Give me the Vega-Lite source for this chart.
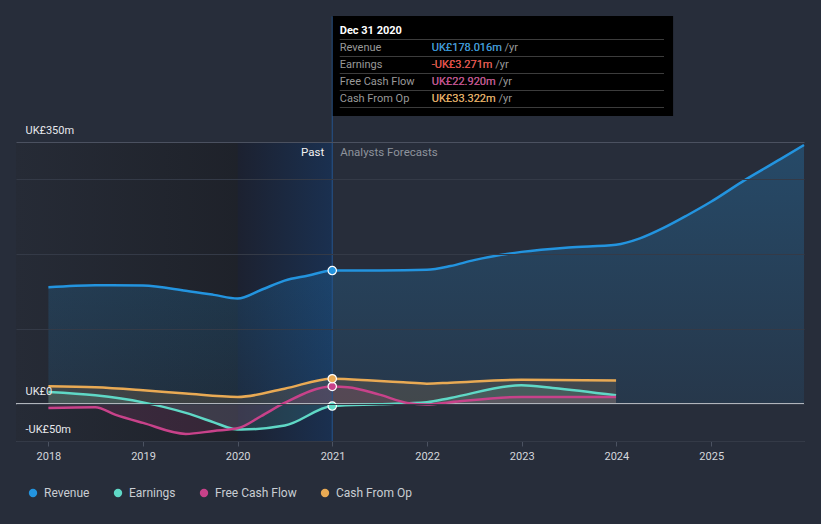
{
  "$schema": "https://vega.github.io/schema/vega-lite/v6.json",
  "width": 788,
  "height": 299,
  "autosize": {"type": "none"},
  "padding": {"left": 16, "top": 142, "right": 17, "bottom": 83},
  "background": "#272d3a",
  "config": {"view": {"stroke": null}, "font": "Roboto"},
  "datasets": {
    "fin": [
      {"series": "Revenue", "date": "2018-01-01", "value": 155.8},
      {"series": "Revenue", "date": "2018-07-01", "value": 158.5},
      {"series": "Revenue", "date": "2019-01-01", "value": 158.0},
      {"series": "Revenue", "date": "2019-06-15", "value": 151.0},
      {"series": "Revenue", "date": "2019-10-01", "value": 145.5},
      {"series": "Revenue", "date": "2020-01-01", "value": 140.6},
      {"series": "Revenue", "date": "2020-03-31", "value": 152.0},
      {"series": "Revenue", "date": "2020-06-30", "value": 164.6},
      {"series": "Revenue", "date": "2020-09-30", "value": 171.3},
      {"series": "Revenue", "date": "2020-12-31", "value": 178.016},
      {"series": "Revenue", "date": "2021-06-30", "value": 178.1},
      {"series": "Revenue", "date": "2021-12-31", "value": 179.0},
      {"series": "Revenue", "date": "2022-04-01", "value": 184.0},
      {"series": "Revenue", "date": "2022-07-01", "value": 192.0},
      {"series": "Revenue", "date": "2022-12-31", "value": 203.0},
      {"series": "Revenue", "date": "2023-07-01", "value": 209.0},
      {"series": "Revenue", "date": "2023-12-31", "value": 212.5},
      {"series": "Revenue", "date": "2024-04-01", "value": 221.0},
      {"series": "Revenue", "date": "2024-07-01", "value": 235.0},
      {"series": "Revenue", "date": "2024-10-01", "value": 252.0},
      {"series": "Revenue", "date": "2024-12-31", "value": 270.0},
      {"series": "Revenue", "date": "2025-05-15", "value": 300.0},
      {"series": "Revenue", "date": "2025-09-25", "value": 327.0},
      {"series": "Revenue", "date": "2025-12-25", "value": 346.0},
      {"series": "Earnings", "date": "2018-01-01", "value": 15.6},
      {"series": "Earnings", "date": "2018-07-01", "value": 11.1},
      {"series": "Earnings", "date": "2019-01-01", "value": 1.7},
      {"series": "Earnings", "date": "2019-06-15", "value": -12.4},
      {"series": "Earnings", "date": "2019-10-01", "value": -25.0},
      {"series": "Earnings", "date": "2019-12-15", "value": -33.8},
      {"series": "Earnings", "date": "2020-01-15", "value": -34.7},
      {"series": "Earnings", "date": "2020-07-01", "value": -29.4},
      {"series": "Earnings", "date": "2020-12-31", "value": -3.271},
      {"series": "Earnings", "date": "2021-06-30", "value": -0.8},
      {"series": "Earnings", "date": "2021-12-31", "value": 1.8},
      {"series": "Earnings", "date": "2022-04-01", "value": 7.6},
      {"series": "Earnings", "date": "2022-12-31", "value": 24.5},
      {"series": "Earnings", "date": "2023-05-01", "value": 21.0},
      {"series": "Earnings", "date": "2023-12-31", "value": 11.1},
      {"series": "Free Cash Flow", "date": "2018-01-01", "value": -5.8},
      {"series": "Free Cash Flow", "date": "2018-07-01", "value": -4.9},
      {"series": "Free Cash Flow", "date": "2018-09-15", "value": -14.7},
      {"series": "Free Cash Flow", "date": "2019-01-01", "value": -25.8},
      {"series": "Free Cash Flow", "date": "2019-06-15", "value": -40.5},
      {"series": "Free Cash Flow", "date": "2019-10-01", "value": -36.5},
      {"series": "Free Cash Flow", "date": "2020-01-01", "value": -33.0},
      {"series": "Free Cash Flow", "date": "2020-03-31", "value": -16.9},
      {"series": "Free Cash Flow", "date": "2020-06-30", "value": 0.9},
      {"series": "Free Cash Flow", "date": "2020-12-31", "value": 22.92},
      {"series": "Free Cash Flow", "date": "2021-03-01", "value": 22.0},
      {"series": "Free Cash Flow", "date": "2021-07-01", "value": 12.0},
      {"series": "Free Cash Flow", "date": "2021-10-15", "value": 1.0},
      {"series": "Free Cash Flow", "date": "2021-12-31", "value": -1.3},
      {"series": "Free Cash Flow", "date": "2022-04-01", "value": 1.8},
      {"series": "Free Cash Flow", "date": "2022-12-31", "value": 9.0},
      {"series": "Free Cash Flow", "date": "2023-12-31", "value": 9.0},
      {"series": "Cash From Op", "date": "2018-01-01", "value": 23.1},
      {"series": "Cash From Op", "date": "2018-07-01", "value": 21.8},
      {"series": "Cash From Op", "date": "2019-01-01", "value": 17.8},
      {"series": "Cash From Op", "date": "2019-06-15", "value": 13.4},
      {"series": "Cash From Op", "date": "2020-01-01", "value": 8.9},
      {"series": "Cash From Op", "date": "2020-06-30", "value": 20.0},
      {"series": "Cash From Op", "date": "2020-12-31", "value": 33.322},
      {"series": "Cash From Op", "date": "2021-06-01", "value": 31.0},
      {"series": "Cash From Op", "date": "2021-10-01", "value": 28.5},
      {"series": "Cash From Op", "date": "2021-12-31", "value": 26.7},
      {"series": "Cash From Op", "date": "2022-04-01", "value": 28.0},
      {"series": "Cash From Op", "date": "2022-12-31", "value": 32.0},
      {"series": "Cash From Op", "date": "2023-12-31", "value": 31.1}
    ],
    "tip": [
      {"row": 1, "label": "Revenue", "value": "UK£178.016m"},
      {"row": 2, "label": "Earnings", "value": "-UK£3.271m"},
      {"row": 3, "label": "Free Cash Flow", "value": "UK£22.920m"},
      {"row": 4, "label": "Cash From Op", "value": "UK£33.322m"}
    ]
  },
  "layer": [
    {
      "layer": [
        {
          "data": {"values": [{"a": 1}]},
          "mark": {
            "type": "rect",
            "color": {
              "gradient": "linear", "x1": 0, "y1": 0, "x2": 1, "y2": 0,
              "stops": [{"offset": 0, "color": "#262b36"}, {"offset": 1, "color": "#1b1e25"}]
            }
          },
          "encoding": {
            "x": {
              "datum": {"year": 2017, "month": 8, "date": 29, "utc": true},
              "type": "temporal",
              "scale": {"type": "utc", "domain": ["2017-08-29", "2025-12-25"]},
              "axis": {
                "title": null,
                "format": "%Y",
                "tickCount": {"interval": "year", "step": 1},
                "grid": false,
                "domainColor": "#4b5261",
                "tickColor": "#4b5261",
                "tickSize": 5,
                "labelPadding": 4,
                "labelColor": "#d4d7dc",
                "labelFontSize": 11,
                "labelFont": "Roboto"
              }
            },
            "x2": {"datum": {"year": 2020, "month": 12, "date": 31, "utc": true}}
          }
        },
        {
          "data": {"values": [{"a": 1}]},
          "mark": {
            "type": "rect",
            "color": {
              "gradient": "linear", "x1": 0, "y1": 0, "x2": 1, "y2": 0,
              "stops": [{"offset": 0, "color": "#1c2130"}, {"offset": 1, "color": "#1a3050"}]
            }
          },
          "encoding": {
            "x": {"datum": {"year": 2020, "month": 1, "date": 1, "utc": true}, "type": "temporal"},
            "x2": {"datum": {"year": 2020, "month": 12, "date": 31, "utc": true}}
          }
        },
        {
          "data": {"name": "fin"},
          "transform": [{"filter": "datum.series === 'Revenue'"}],
          "mark": {
            "type": "area",
            "interpolate": "monotone",
            "color": {
              "gradient": "linear", "x1": 0, "y1": 0, "x2": 0, "y2": 1,
              "stops": [{"offset": 0, "color": "rgba(35,148,223,0.28)"}, {"offset": 1, "color": "rgba(35,148,223,0.10)"}]
            }
          },
          "encoding": {
            "x": {"field": "date", "type": "temporal"},
            "y": {
              "field": "value",
              "type": "quantitative",
              "scale": {"domain": [-50, 350], "nice": false, "zero": false},
              "axis": {
                "title": null,
                "values": [-50, 0, 100, 200, 300, 350],
                "labelExpr": "datum.value == 350 ? 'UK£350m' : datum.value == 0 ? 'UK£0' : datum.value == -50 ? '-UK£50m' : ''",
                "domain": false,
                "ticks": false,
                "tickSize": 0,
                "labelAlign": "left",
                "labelBaseline": "middle",
                "labelPadding": -9,
                "labelOffset": -12,
                "labelColor": "#e6e8ec",
                "labelFontSize": 11,
                "labelFont": "Roboto",
                "grid": true,
                "gridColor": {"condition": {"test": "datum.value == 350", "value": "#4b5160"}, "value": "#343a47"},
                "zindex": 1
              }
            },
            "y2": {"datum": 0}
          }
        },
        {
          "data": {"name": "fin"},
          "transform": [{"filter": "datum.series !== 'Revenue'"}],
          "mark": {"type": "area", "interpolate": "monotone", "opacity": 0.14},
          "encoding": {
            "x": {"field": "date", "type": "temporal"},
            "y": {"field": "value", "type": "quantitative"},
            "y2": {"datum": 0},
            "color": {"field": "series", "type": "nominal"}
          }
        },
        {
          "data": {"values": [{"a": 1}]},
          "mark": {"type": "rule", "color": "#b0b4bb", "strokeWidth": 1.5},
          "encoding": {"y": {"datum": 0, "type": "quantitative"}}
        },
        {
          "data": {"values": [{"a": 1}]},
          "mark": {"type": "rule", "color": "#24558f", "strokeWidth": 1},
          "encoding": {
            "x": {"datum": {"year": 2020, "month": 12, "date": 31, "utc": true}, "type": "temporal"},
            "y": {"datum": -50, "type": "quantitative"},
            "y2": {"datum": 518}
          }
        },
        {
          "data": {"name": "fin"},
          "mark": {"type": "line", "interpolate": "monotone", "strokeWidth": 2.5},
          "encoding": {
            "x": {"field": "date", "type": "temporal"},
            "y": {"field": "value", "type": "quantitative"},
            "color": {
              "field": "series",
              "type": "nominal",
              "scale": {
                "domain": ["Revenue", "Earnings", "Free Cash Flow", "Cash From Op"],
                "range": ["#2394df", "#5fd8c6", "#c8428a", "#e9aa54"]
              },
              "legend": {
                "title": null,
                "orient": "none",
                "legendX": 11,
                "legendY": 345,
                "direction": "horizontal",
                "symbolType": "circle",
                "symbolSize": 70,
                "labelFontSize": 12,
                "labelFont": "Roboto",
                "labelColor": "#c9cdd3",
                "labelOffset": 5,
                "columnPadding": 22,
                "encode": {"symbols": {"update": {"fill": {"scale": "color", "field": "value"}, "strokeWidth": {"value": 0}, "opacity": {"value": 1}}}}
              }
            }
          }
        },
        {
          "data": {"name": "fin"},
          "transform": [{"filter": "time(datum.date) === utc(2020, 11, 31)"}],
          "mark": {"type": "circle", "size": 70, "opacity": 1, "stroke": "#ffffff", "strokeWidth": 1.2},
          "encoding": {
            "x": {"field": "date", "type": "temporal"},
            "y": {"field": "value", "type": "quantitative"},
            "color": {"field": "series", "type": "nominal"}
          }
        },
        {
          "data": {"values": [{"a": 1}]},
          "mark": {"type": "text", "text": "Past", "align": "right", "baseline": "middle", "dx": -8, "fontSize": 11.5, "color": "#f2f2f2"},
          "encoding": {
            "x": {"datum": {"year": 2020, "month": 12, "date": 31, "utc": true}, "type": "temporal"},
            "y": {"datum": 335, "type": "quantitative"}
          }
        },
        {
          "data": {"values": [{"a": 1}]},
          "mark": {"type": "text", "text": "Analysts Forecasts", "align": "left", "baseline": "middle", "dx": 8, "fontSize": 11.5, "color": "#8e939c"},
          "encoding": {
            "x": {"datum": {"year": 2020, "month": 12, "date": 31, "utc": true}, "type": "temporal"},
            "y": {"datum": 335, "type": "quantitative"}
          }
        }
      ]
    },
    {
      "layer": [
        {
          "data": {"values": [{"a": 1}]},
          "mark": {"type": "rect", "color": "#000000"},
          "encoding": {
            "x": {"datum": {"year": 2021, "month": 1, "date": 2, "utc": true}, "type": "temporal"},
            "x2": {"datum": {"year": 2024, "month": 8, "date": 7, "utc": true}},
            "y": {
              "datum": -0.88,
              "type": "quantitative",
              "scale": {"domain": [0, 4], "range": [-111, -43], "nice": false, "zero": false},
              "axis": null
            },
            "y2": {"datum": 5.0}
          }
        },
        {
          "data": {"name": "tip"},
          "mark": {"type": "rule", "color": "#3c3c3c", "strokeWidth": 1, "yOffset": 8.5},
          "encoding": {
            "x": {"datum": {"year": 2021, "month": 1, "date": 29, "utc": true}, "type": "temporal"},
            "x2": {"datum": {"year": 2024, "month": 7, "date": 3, "utc": true}},
            "y": {"field": "row", "type": "quantitative"}
          }
        },
        {
          "data": {"values": [{"a": 1}]},
          "mark": {"type": "rule", "color": "#3c3c3c", "strokeWidth": 1},
          "encoding": {
            "x": {"datum": {"year": 2021, "month": 1, "date": 29, "utc": true}, "type": "temporal"},
            "x2": {"datum": {"year": 2024, "month": 7, "date": 3, "utc": true}},
            "y": {"datum": 0.5, "type": "quantitative"}
          }
        },
        {
          "data": {"values": [{"a": 1}]},
          "mark": {"type": "text", "text": "Dec 31 2020", "align": "left", "baseline": "middle", "fontSize": 11, "fontWeight": "bold", "color": "#ffffff"},
          "encoding": {
            "x": {"datum": {"year": 2021, "month": 1, "date": 29, "utc": true}, "type": "temporal"},
            "y": {"datum": 0, "type": "quantitative"}
          }
        },
        {
          "data": {"name": "tip"},
          "mark": {"type": "text", "align": "left", "baseline": "middle", "fontSize": 11, "color": "#999999"},
          "encoding": {
            "x": {"datum": {"year": 2021, "month": 1, "date": 29, "utc": true}, "type": "temporal"},
            "y": {"field": "row", "type": "quantitative"},
            "text": {"field": "label"}
          }
        },
        {
          "data": {"name": "tip"},
          "transform": [{"calculate": "datum.value + ' /yr'", "as": "valueyr"}],
          "mark": {"type": "text", "align": "left", "baseline": "middle", "fontSize": 11, "color": "#999999"},
          "encoding": {
            "x": {"datum": {"year": 2022, "month": 1, "date": 19, "utc": true}, "type": "temporal"},
            "y": {"field": "row", "type": "quantitative"},
            "text": {"field": "valueyr"}
          }
        },
        {
          "data": {"name": "tip"},
          "mark": {"type": "text", "align": "left", "baseline": "middle", "fontSize": 11},
          "encoding": {
            "x": {"datum": {"year": 2022, "month": 1, "date": 19, "utc": true}, "type": "temporal"},
            "y": {"field": "row", "type": "quantitative"},
            "text": {"field": "value"},
            "color": {
              "condition": {"test": "datum.label === 'Earnings'", "value": "#ee4136"},
              "field": "label",
              "type": "nominal"
            }
          }
        }
      ]
    }
  ],
  "resolve": {"scale": {"y": "independent"}}
}
